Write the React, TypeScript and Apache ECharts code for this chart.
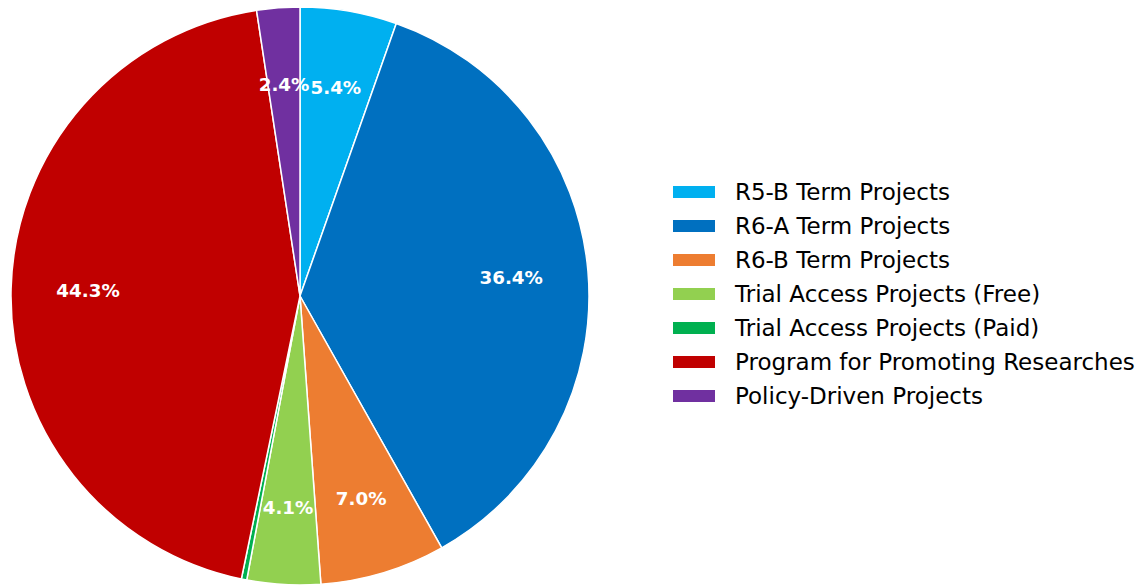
import React, { useEffect, useRef } from "react";
import * as echarts from "echarts";

const categories = [
  "R5-B Term Projects",
  "R6-A Term Projects",
  "R6-B Term Projects",
  "Trial Access Projects (Free)",
  "Trial Access Projects (Paid)",
  "Program for Promoting Researches",
  "Policy-Driven Projects",
];
const values = [5.4, 36.4, 7.0, 4.1, 0.3, 44.3, 2.4];
const colors = ["#00B0F0", "#0070C0", "#ED7D31", "#92D050", "#00B050", "#C00000", "#7030A0"];

export default function App() {
  const ref = useRef<HTMLDivElement>(null);
  useEffect(() => {
    const chart = echarts.init(ref.current!, null, { renderer: "svg" });
    const total = values.reduce((a, b) => a + b, 0);
    const data = categories.map((name, i) => ({
      name,
      value: values[i],
      itemStyle: { color: colors[i] },
    }));
    chart.setOption({
      animation: false,
      backgroundColor: "#ffffff",
      legend: {
        orient: "vertical",
        left: 671,
        top: 175,
        padding: 0,
        itemWidth: 44,
        itemHeight: 14,
        itemGap: 0,
        icon: "rect",
        selectedMode: false,
        data: categories,
        textStyle: {
          fontFamily: "DejaVu Sans",
          fontSize: 23,
          color: "#000000",
          lineHeight: 34,
          padding: [0, 0, 0, 14],
        },
      },
      series: [
        {
          type: "pie",
          center: [300, 296],
          radius: [0, 289],
          startAngle: 90,
          clockwise: true,
          silent: true,
          data,
          itemStyle: { borderColor: "#ffffff", borderWidth: 1.5 },
          label: { show: false },
          labelLine: { show: false },
        },
        {
          type: "pie",
          center: [300, 296],
          radius: [198, 220],
          startAngle: 90,
          clockwise: true,
          silent: true,
          legendHoverLink: false,
          data: categories.map((name, i) => ({
            name: name + " ",
            value: values[i],
            itemStyle: { color: "rgba(0,0,0,0)" },
          })),
          itemStyle: { borderWidth: 0 },
          label: {
            show: true,
            position: "inside",
            color: "#ffffff",
            fontFamily: "DejaVu Sans",
            fontWeight: "bold",
            fontSize: 18.3,
            formatter: (p: any) => {
              const pct = (p.value / total) * 100;
              return pct < 1 ? "" : pct.toFixed(1) + "%";
            },
          },
          labelLine: { show: false },
        },
      ],
    });
    return () => chart.dispose();
  }, []);
  return (
    <div
      ref={ref}
      style={{ position: "fixed", left: 0, top: 0, width: 1140, height: 586 }}
    />
  );
}
